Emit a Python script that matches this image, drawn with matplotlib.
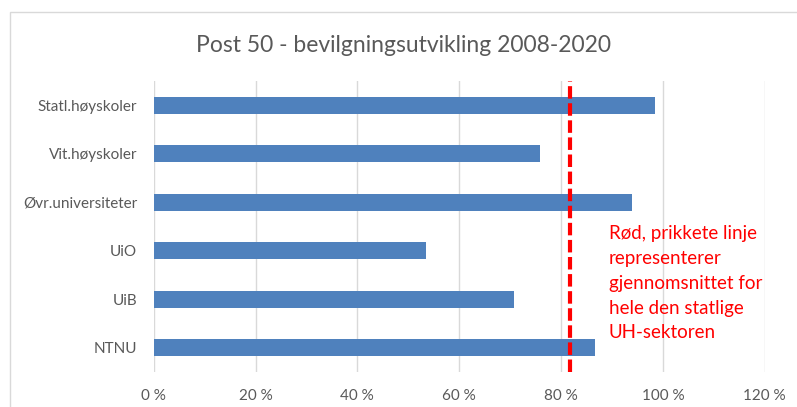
import matplotlib
matplotlib.use("Agg")
import matplotlib.pyplot as plt
from matplotlib.patches import Rectangle
from matplotlib.ticker import FuncFormatter

# Data
categories = ["Statl.høyskoler", "Vit.høyskoler", "Øvr.universiteter", "UiO", "UiB", "NTNU"]
values = [98.4, 75.8, 94.0, 53.5, 70.7, 86.7]
sector_avg = 81.7
title = "Post 50 - bevilgningsutvikling 2008-2020"
note = "Rød, prikkete linje\nrepresenterer\ngjennomsnittet for\nhele den statlige\nUH-sektoren"

BAR = "#4f81bd"
GRID = "#d9d9d9"
TXT = "#595959"

plt.rcParams["font.family"] = ["Lato", "DejaVu Sans"]

W, H = 797, 407
fig = plt.figure(figsize=(W / 100, H / 100), dpi=100)
ax = fig.add_axes([153.7 / W, 1 - 372 / H, (764.7 - 153.7) / W, (372 - 81) / H])

ypos = range(len(categories))
ax.barh(ypos, values, height=0.35, color=BAR, zorder=2)
ax.axvline(sector_avg, color="#ff0000", lw=3, dashes=(3, 1.1), zorder=3)

ax.set_xlim(0, 120)
ax.set_ylim(len(categories) - 0.5, -0.5)
ax.set_xticks(range(0, 121, 20))
ax.xaxis.set_major_formatter(FuncFormatter(lambda v, _: f"{v:.0f} %"))
ax.set_yticks(list(ypos))
ax.set_yticklabels(categories)
ax.grid(axis="x", color=GRID, lw=1, zorder=0)
for s in ax.spines.values():
    s.set_visible(False)
ax.tick_params(axis="both", length=0, colors=TXT, labelsize=11)
ax.tick_params(axis="x", pad=12)
ax.tick_params(axis="y", pad=12)

fig.text(403 / W, 1 - 45 / H, title, ha="center", va="center", fontsize=16.5, color=TXT)
fig.text(609 / W, 1 - 225 / H, note, ha="left", va="top", fontsize=13.5, color="#ff0000",
         linespacing=1.56)

# light chart border (only left and top edges are inside the picture)
fig.patches.append(Rectangle((10 / W, -0.1), 1.0, 1.1 - 12 / H, fill=False,
                             edgecolor=GRID, lw=1, transform=fig.transFigure, figure=fig))

fig.savefig("out.png", dpi=100)
